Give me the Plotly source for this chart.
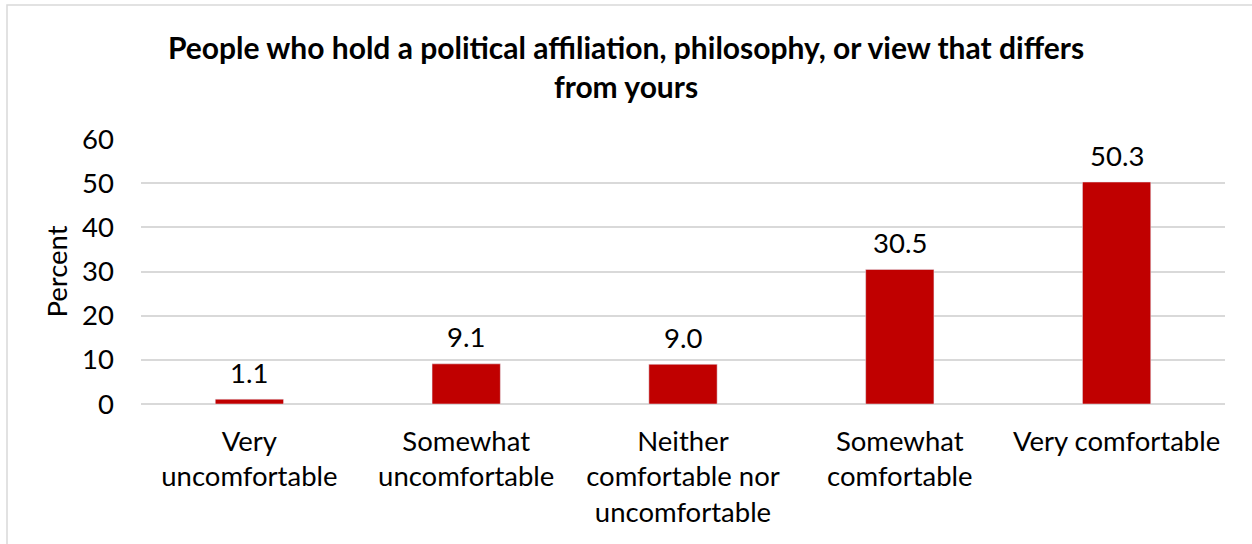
import plotly.graph_objects as go

categories = ["Very<br>uncomfortable", "Somewhat<br>uncomfortable",
              "Neither<br>comfortable nor<br>uncomfortable",
              "Somewhat<br>comfortable", "Very comfortable"]
values = [1.1, 9.1, 9.0, 30.5, 50.3]
labels = ["1.1", "9.1", "9.0", "30.5", "50.3"]
title_text = "People who hold a political affiliation, philosophy, or view that differs<br>from yours"

FONT = "Lato, 'Open Sans', sans-serif"
FS = 27.5

fig = go.Figure(go.Bar(
    x=categories, y=values,
    marker=dict(color="#C00000"),
))

for c, v, t in zip(categories, values, labels):
    fig.add_annotation(x=c, y=v, text=t, showarrow=False, yanchor="middle",
                       yshift=27, font=dict(size=FS, color="#000000", family=FONT))

fig.update_layout(
    width=1252, height=544,
    margin=dict(l=141, r=27, t=139, b=140),
    paper_bgcolor="white", plot_bgcolor="white",
    font=dict(family=FONT, size=FS, color="#000000"),
    title=dict(text="<b>" + title_text + "</b>", x=0.5, xanchor="center",
               y=0.892, yanchor="top", font=dict(size=30, family=FONT, color="#000000")),
    bargap=0.685,
    showlegend=False,
    shapes=[dict(type="rect", xref="paper", yref="paper",
                 x0=-134/1084, x1=1.2, y0=-0.8, y1=1+134/265,
                 line=dict(color="#d9d9d9", width=1.5), fillcolor="rgba(0,0,0,0)")],
)
fig.update_xaxes(showgrid=False, showline=False, ticks="", tickfont=dict(size=FS),
                 ticklabelstandoff=18)
fig.update_yaxes(range=[0, 60.05], dtick=10, showgrid=True, gridcolor="#d9d9d9",
                 gridwidth=1.5, zeroline=True, zerolinecolor="#d9d9d9", zerolinewidth=1.5,
                 showline=False, ticks="", tickfont=dict(size=FS), ticklabelstandoff=26,
                 title=dict(text="Percent", font=dict(size=FS), standoff=6))

fig.write_html("out.html", config={"displayModeBar": False},
               post_script="document.body.style.margin='0';")
